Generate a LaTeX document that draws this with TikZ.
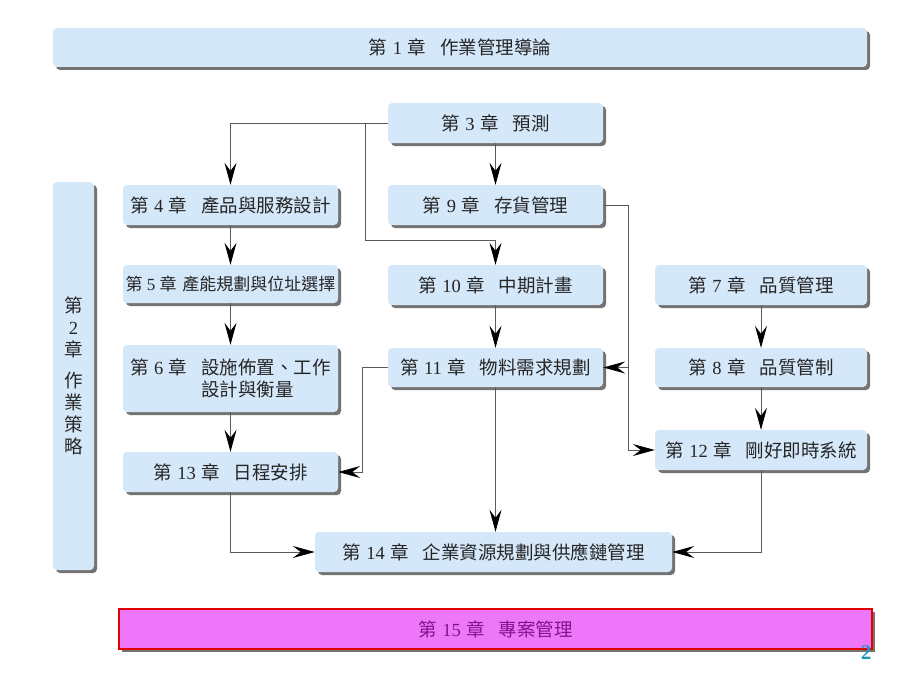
\documentclass[tikz,border=0pt]{standalone}
\usepackage{fontspec}
\setmainfont{Noto Sans CJK TC}
\newfontfamily\dg{Liberation Serif}
\usetikzlibrary{arrows.meta,shadows}
\definecolor{boxblue}{RGB}{213,232,250}
\definecolor{lnk}{RGB}{90,90,90}
\definecolor{mag}{RGB}{238,118,248}
\definecolor{purp}{RGB}{130,20,140}
\definecolor{pgnum}{RGB}{30,150,190}
\newcommand\chap[2]{第\hspace{0.3em}{\dg #1}\hspace{0.3em}章\hspace{0.75em}#2}
\newcommand\chapn[2]{第\hspace{0.25em}{\dg #1}\hspace{0.25em}章\hspace{0.35em}#2}
\tikzset{
  box/.style={fill=boxblue, rounded corners=4pt, inner sep=0pt,
    font=\fontsize{18.5}{22}\selectfont, text=black!85,
    drop shadow={shadow xshift=3pt, shadow yshift=-3pt, fill=black!55, opacity=1}},
  link/.style={draw=lnk, line width=0.9pt,
    arrows={-Stealth[length=22pt, width=12pt, inset=8pt, color=black]}}
}
\begin{document}
\begin{tikzpicture}[x=1pt, y=-1pt]
\useasboundingbox[fill=white] (0,0) rectangle (920,690);

\node[box, minimum width=814pt, minimum height=39pt] (b1) at (460,47.5) {\chap{1}{作業管理導論}};
\node[box, minimum width=41pt, minimum height=388pt, align=center] (b2) at (73.5,376)
  {第\\[0pt]{\dg 2}\\[0pt]章\\[9pt]作\\[0pt]業\\[0pt]策\\[0pt]略};

\node[box, minimum width=215pt, minimum height=40pt] (b3) at (495.5,123) {\chap{3}{預測}};
\node[box, minimum width=215pt, minimum height=40pt] (b9) at (495.5,205) {\chap{9}{存貨管理}};
\node[box, minimum width=215pt, minimum height=40pt] (b4) at (230.5,205) {\chap{4}{產品與服務設計}};
\node[box, minimum width=215pt, minimum height=38pt, font=\fontsize{17}{20}\selectfont] (b5) at (230.5,284) {\chapn{5}{產能規劃與位址選擇}};
\node[box, minimum width=215pt, minimum height=40pt] (b10) at (495.5,285) {\chap{10}{中期計畫}};
\node[box, minimum width=212pt, minimum height=40pt] (b7) at (761,285) {\chap{7}{品質管理}};
\node[box, minimum width=215pt, minimum height=67pt, align=left] (b6) at (230.5,378.5)
  {\chap{6}{設施佈置、工作}\\\hphantom{\chap{6}{}}設計與衡量};
\node[box, minimum width=215pt, minimum height=39pt] (b11) at (495.5,367.5) {\chap{11}{物料需求規劃}};
\node[box, minimum width=212pt, minimum height=39pt] (b8) at (761,367.5) {\chap{8}{品質管制}};
\node[box, minimum width=212pt, minimum height=40pt] (b12) at (761,450) {\chap{12}{剛好即時系統}};
\node[box, minimum width=215pt, minimum height=40pt] (b13) at (230.5,472) {\chap{13}{日程安排}};
\node[box, minimum width=357pt, minimum height=40pt] (b14) at (493.5,552) {\chap{14}{企業資源規劃與供應鏈管理}};
\node[box, fill=mag, draw=red!90!black, line width=2.5pt, rounded corners=0pt, text=purp,
  minimum width=753pt, minimum height=40pt] (b15) at (495.5,629) {\chap{15}{專案管理}};
\node[text=pgnum, inner sep=0pt] (pg) at (866,653) {\fontsize{21}{22}\selectfont\dg\bfseries 2};

\coordinate (j1) at (365,123);
\coordinate (j2) at (365,240);
\coordinate (r1) at (628,205);
\coordinate (r2) at (628,367.5);
\coordinate (l1) at (362,367.5);

\draw[link] (b3.west) -| (b4.north);
\draw[link] (j1) -- (j2) -| (b10.north);
\draw[link] (b3) -- (b9);
\draw[link] (b9.east) -- (r1) |- (b12.west);
\draw[link] (r2) -- (b11.east);
\draw[link] (b4) -- (b5);
\draw[link] (b5) -- (b6);
\draw[link] (b6) -- (b13);
\draw[link] (b10) -- (b11);
\draw[link] (b7) -- (b8);
\draw[link] (b8) -- (b12);
\draw[link] (b11.west) -- (l1) |- (b13.east);
\draw[link] (b11.south) -- (b11.south |- b14.north);
\draw[link] (b13.south) |- (b14.west);
\draw[link] (b12.south) |- (b14.east);
\end{tikzpicture}
\end{document}
